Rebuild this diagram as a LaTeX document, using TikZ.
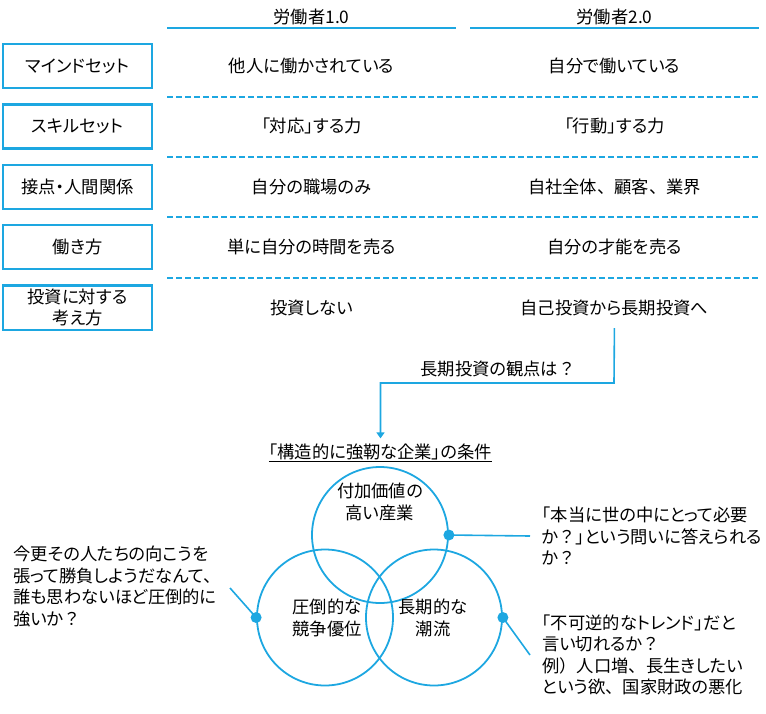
\documentclass[tikz,border=0pt]{standalone}
\usepackage{fontspec}
\setmainfont{Noto Sans CJK JP}[RawFeature={+palt}]
\newfontfamily\fullwidth{Noto Sans CJK JP}
\newcommand\fw[1]{{\fullwidth #1}}
\usepackage{tikz}
\usetikzlibrary{arrows.meta,positioning}
\definecolor{sky}{RGB}{29,167,225}

\begin{document}
\begin{tikzpicture}[x=1pt, y=-1pt, node distance=60.4pt, on grid,
        font=\fontsize{17.3}{21.5}\selectfont,
        rowbox/.style = {draw=sky, line width=2.2pt, minimum width=149pt, minimum height=44pt, align=center},
        cell/.style   = {align=center},
        note/.style   = {align=left, inner xsep=12pt, inner ysep=2pt},
        ring/.style   = {circle, draw=sky, line width=1.8pt, minimum size=136pt, inner sep=0pt},
        rule/.style   = {draw=sky, line width=2pt},
        sep/.style    = {draw=sky, line width=1.4pt, dash pattern=on 6pt off 3pt},
        link/.style   = {draw=sky, line width=1.6pt},
        dot/.style    = {fill=sky}]
    \useasboundingbox (0,0) rectangle (766,713);

    % row heads
    \node[rowbox]                    (mind)    at (77.5,66) {マインドセット};
    \node[rowbox, below = of mind]   (skill)   {スキルセット};
    \node[rowbox, below = of skill]  (contact) {接点・人間関係};
    \node[rowbox, below = of contact](style)   {働き方};
    \node[rowbox, below = of style]  (invest)  {投資に対する\\考え方};

    % worker 1.0
    \node[cell, right = 234pt of mind]    (mind1)    {他人に働かされている};
    \node[cell, right = 234pt of skill]   (skill1)   {「対応」する力};
    \node[cell, right = 234pt of contact] (contact1) {自分の職場のみ};
    \node[cell, right = 234pt of style]   (style1)   {単に自分の時間を売る};
    \node[cell, right = 234pt of invest]  (invest1)  {投資しない};

    % worker 2.0
    \node[cell, right = 303pt of mind1]    (mind2)    {自分で働いている};
    \node[cell, right = 303pt of skill1]   (skill2)   {「行動」する力};
    \node[cell, right = 303pt of contact1] (contact2) {自社全体\fw{、}顧客\fw{、}業界};
    \node[cell, right = 303pt of style1]   (style2)   {自分の才能を売る};
    \node[cell, right = 303pt of invest1]  (invest2)  {自己投資から長期投資へ};

    \node[cell, above = 49pt of mind1] (head1) {労働者1.0};
    \node[cell, above = 49pt of mind2] (head2) {労働者2.0};
    \draw[rule] (167,28) -- (456,28);
    \draw[rule] (470,28) -- (759,28);
    \foreach \y in {97,157,217,278}
        \draw[sep] (167,\y) -- (758,\y);

    % conditions
    \node[cell] (view)  at (498,369) {長期投資の観点は\fw{？}};
    \node[cell] (title) at (380.5,453) {\underline{「構造的に強靭な企業」の条件}};
    \coordinate (turn) at (614,383);
    \draw[link, -{Triangle[length=6pt, width=8pt]}, shorten <=9pt, shorten >=2pt]
        (invest2.south) -- (turn) -| (title.north);

    \node[ring] (value) at (380,535) {};
    \node[ring] (edge)  at (325,617.5) {};
    \node[ring] (trend) at (434,617.5) {};
    \node[cell, above = 11pt of value.center] (valuetext) {付加価値の\\高い産業};
    \node[cell] (edgetext)  at (327,618) {圧倒的な\\競争優位};
    \node[cell] (trendtext) at (433,618) {長期的な\\潮流};

    % notes
    \node[note, anchor=west] (need)  at (530,536) {「本当に世の中にとって必要\\か\fw{？}」という問いに答えられる\\か\fw{？}};
    \node[note, anchor=west] (irrev) at (530,655) {「不可逆的なトレンド」だと\\言い切れるか\fw{？}\\例\fw{）}人口増\fw{、}長生きしたい\\という欲\fw{、}国家財政の悪化};
    \node[note, anchor=north west, inner xsep=0pt] (upset) at (13,544) {今更その人たちの向こうを\\張って勝負しようだなんて\fw{、}\\誰も思わないほど圧倒的に\\強いか\fw{？}};
    \coordinate (upsetend) at (230,588);

    \draw[link] (value.east) -- (need.west);
    \draw[link] (trend.east) -- (irrev.west);
    \draw[link] (edge.west) -- (upsetend);
    \fill[dot] (value.east) circle (5.5pt);
    \fill[dot] (edge.west)  circle (5.5pt);
    \fill[dot] (trend.east) circle (5.5pt);
\end{tikzpicture}
\end{document}
